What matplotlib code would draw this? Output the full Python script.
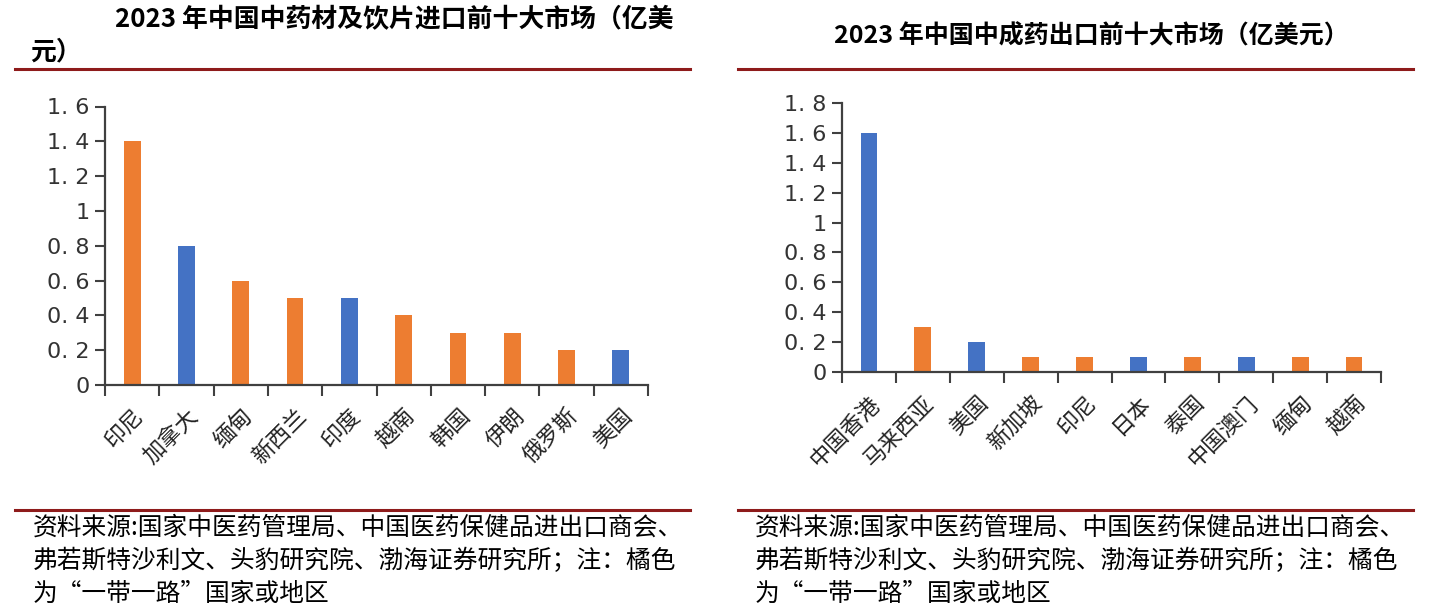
import matplotlib
matplotlib.use("Agg")
import matplotlib.pyplot as plt
from matplotlib.lines import Line2D

plt.rcParams['font.family'] = ['Noto Sans CJK SC', 'DejaVu Sans']

# ---- data ----
left_title_1 = "2023 年中国中药材及饮片进口前十大市场（亿美"
left_title_2 = "元）"
left_cats = ["印尼", "加拿大", "缅甸", "新西兰", "印度", "越南", "韩国", "伊朗", "俄罗斯", "美国"]
left_vals = [1.4, 0.8, 0.6, 0.5, 0.5, 0.4, 0.3, 0.3, 0.2, 0.2]
left_belt = [True, False, True, True, False, True, True, True, True, False]
left_yticks = [0, 0.2, 0.4, 0.6, 0.8, 1.0, 1.2, 1.4, 1.6]
left_ylabels = ["0", "0. 2", "0. 4", "0. 6", "0. 8", "1", "1. 2", "1. 4", "1. 6"]

right_title = "2023 年中国中成药出口前十大市场（亿美元）"
right_cats = ["中国香港", "马来西亚", "美国", "新加坡", "印尼", "日本", "泰国", "中国澳门", "缅甸", "越南"]
right_vals = [1.6, 0.3, 0.2, 0.1, 0.1, 0.1, 0.1, 0.1, 0.1, 0.1]
right_belt = [False, True, False, True, True, False, True, False, True, True]
right_yticks = [0, 0.2, 0.4, 0.6, 0.8, 1.0, 1.2, 1.4, 1.6, 1.8]
right_ylabels = ["0", "0. 2", "0. 4", "0. 6", "0. 8", "1", "1. 2", "1. 4", "1. 6", "1. 8"]

footer = ["资料来源:国家中医药管理局、中国医药保健品进出口商会、",
          "弗若斯特沙利文、头豹研究院、渤海证券研究所；注：橘色",
          "为“一带一路”国家或地区"]

ORANGE = "#ED7D31"
BLUE = "#4472C4"
DARKRED = "#8E1B1B"
AXC = "#404040"

W, H = 1434, 616
fig = plt.figure(figsize=(W / 100, H / 100), dpi=100)

def fx(x): return x / W
def fy(y): return 1 - y / H

def make_panel(l, r, top, bottom, cats, vals, belt, yticks, ylabels):
    ax = fig.add_axes([fx(l), fy(bottom), fx(r) - fx(l), fy(top) - fy(bottom)])
    n = len(cats)
    colors = [ORANGE if b else BLUE for b in belt]
    ax.bar(range(n), vals, width=0.31, color=colors, zorder=2)
    ax.set_xlim(-0.5, n - 0.5)
    ax.set_ylim(0, yticks[-1])
    ax.set_yticks(yticks)
    ax.set_yticklabels(ylabels, fontsize=16, color="#333333", family=['DejaVu Sans'])
    ax.set_xticks(range(n))
    ax.set_xticklabels(cats, rotation=45, ha='right', va='top', rotation_mode='anchor',
                       fontsize=16, color="#222222")
    ax.tick_params(axis='x', which='major', length=0, pad=14)
    ax.set_xticks([i - 0.5 for i in range(n + 1)], minor=True)
    ax.tick_params(axis='x', which='minor', length=8, width=1.5, color=AXC, direction='out')
    ax.tick_params(axis='y', length=7, width=1.5, color=AXC, direction='out', pad=4)
    for s in ['top', 'right']:
        ax.spines[s].set_visible(False)
    for s in ['left', 'bottom']:
        ax.spines[s].set_color(AXC)
        ax.spines[s].set_linewidth(1.6)
    return ax

make_panel(105, 648, 106.5, 385, left_cats, left_vals, left_belt, left_yticks, left_ylabels)
make_panel(842, 1381, 103, 372, right_cats, right_vals, right_belt, right_yticks, right_ylabels)

# titles
fig.text(fx(115), fy(20), left_title_1, fontsize=18.6, fontweight='bold', ha='left', va='center', color='black')
fig.text(fx(30), fy(52), left_title_2, fontsize=18.6, fontweight='bold', ha='left', va='center', color='black')
fig.text(fx(1091), fy(36), right_title, fontsize=18, fontweight='bold', ha='center', va='center', color='black')

# separator lines
for (x0, x1) in [(15, 690), (738, 1413)]:
    for y in [69, 510]:
        fig.add_artist(Line2D([fx(x0), fx(x1)], [fy(y), fy(y)], color=DARKRED, linewidth=2.2,
                              transform=fig.transFigure))

# footers
for x0 in [33, 755]:
    for i, line in enumerate(footer):
        fig.text(fx(x0), fy(528 + 33 * i), line, fontsize=17.8, ha='left', va='center', color='black')

fig.savefig("out.png", dpi=100)
